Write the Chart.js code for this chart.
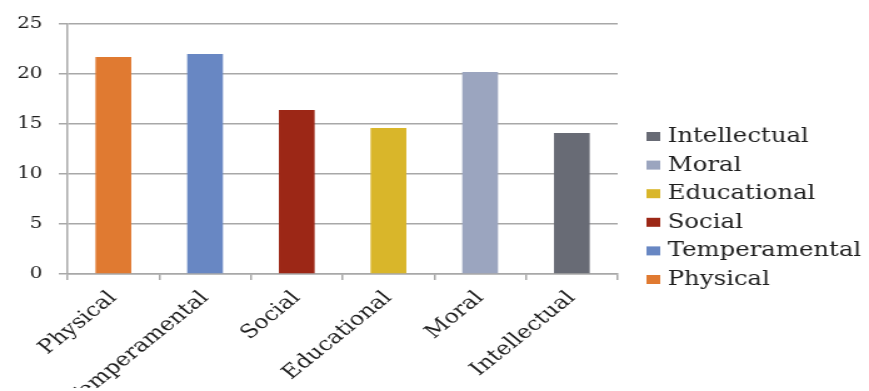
<!DOCTYPE html>
<html>
<head>
<meta charset="utf-8">
<script src="https://cdn.jsdelivr.net/npm/chart.js@4"></script>
<style>
  html, body { margin: 0; padding: 0; background: #fff; }
  canvas { display: block; }
</style>
</head>
<body>
<!-- the reference is a horizontally stretched picture, so the canvas is drawn narrower and stretched by css -->
<canvas id="chart" width="695" height="391" style="width:869px;height:391px"></canvas>
<script>
// Chart data
const categories = ["Physical", "Temperamental", "Social", "Educational", "Moral", "Intellectual"];
const scores = [21.7, 22.0, 16.4, 14.6, 20.2, 14.1];
const barColors = ["#e07a31", "#6887c3", "#9c2716", "#d9b62a", "#9ba5bf", "#686b75"];
const yMin = 0;
const yMax = 25;
const yStep = 5;

const fontFamily = "'DejaVu Serif', 'Liberation Serif', serif";
const gridColor = "#a8a8a8";
const textColor = "#1e1e1e";

// Legend at the right, categories listed bottom-up like the original.
// The built-in legend can't get wide enough next to the y axis, so draw it here.
const sideLegend = {
  id: "sideLegend",
  afterDraw(chart) {
    const c = chart.ctx;
    const area = chart.chartArea;
    const boxX = area.right + 23;
    const textX = area.right + 40;
    const rowH = 28.6;
    let y = area.top + 113;
    c.save();
    c.font = "19.5px " + fontFamily;
    c.textBaseline = "middle";
    c.textAlign = "left";
    for (let i = categories.length - 1; i >= 0; i--) {
      c.fillStyle = barColors[i];
      c.fillRect(boxX, y - 5, 11, 9);
      c.fillStyle = textColor;
      c.fillText(categories[i], textX, y);
      y += rowH;
    }
    c.restore();
  }
};

const ctx = document.getElementById("chart").getContext("2d");
new Chart(ctx, {
  type: "bar",
  data: {
    labels: categories,
    datasets: [{
      label: "Score",
      data: scores,
      backgroundColor: barColors,
      borderWidth: 0,
      barPercentage: 0.39,
      categoryPercentage: 1.0
    }]
  },
  options: {
    responsive: false,
    animation: false,
    layout: {
      padding: { top: 24, bottom: 3, left: 0, right: 201 }
    },
    plugins: {
      tooltip: { enabled: false },
      legend: { display: false }
    },
    scales: {
      x: {
        grid: {
          drawOnChartArea: false,
          drawTicks: true,
          tickLength: 6,
          color: gridColor,
          lineWidth: 1.5
        },
        border: { display: true, color: gridColor, width: 1.5 },
        ticks: {
          minRotation: 45,
          maxRotation: 45,
          padding: 7,
          color: textColor,
          font: { family: fontFamily, size: 19 }
        },
        afterFit: (scale) => { scale.height = 114; }
      },
      y: {
        min: yMin,
        max: yMax,
        ticks: {
          stepSize: yStep,
          padding: 13,
          color: textColor,
          font: { family: fontFamily, size: 16 }
        },
        grid: {
          color: gridColor,
          lineWidth: 1.5,
          tickLength: 7
        },
        border: { display: true, color: gridColor, width: 1.5 },
        afterFit: (scale) => { scale.width = 54; }
      }
    }
  },
  plugins: [sideLegend]
});
</script>
</body>
</html>
